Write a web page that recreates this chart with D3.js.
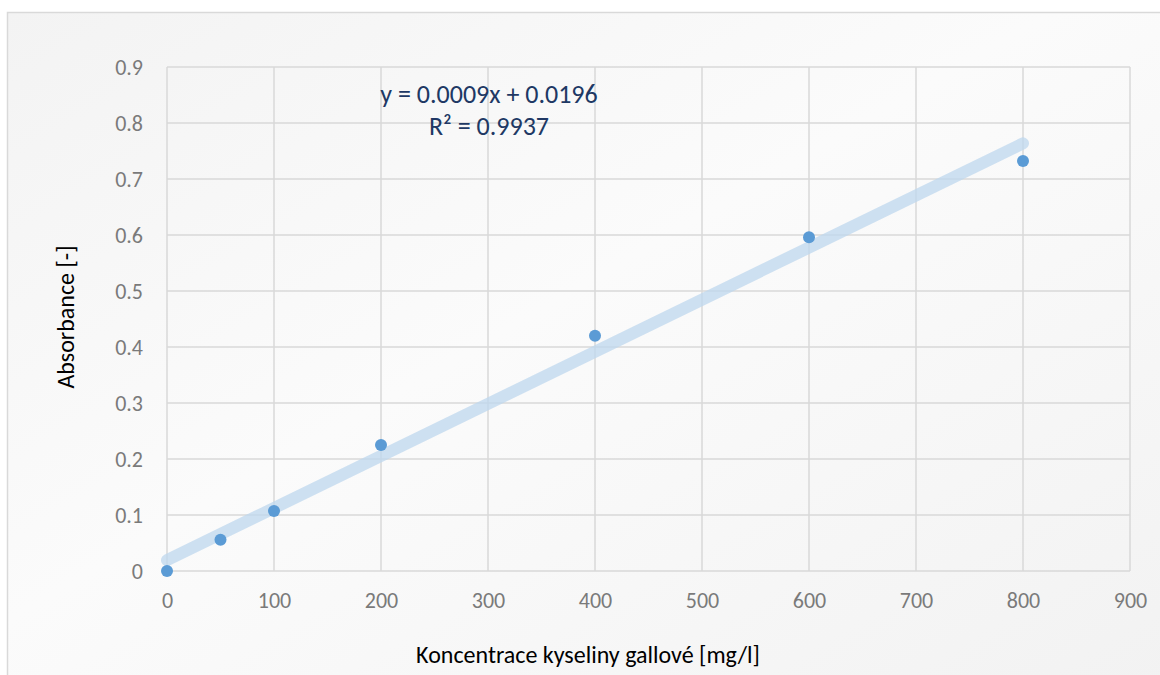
<!DOCTYPE html>
<html>
<head>
<meta charset="utf-8">
<script src="https://cdn.jsdelivr.net/npm/d3@7"></script>
<style>
  body { margin: 0; background: #ffffff; }
  svg { display: block; font-family: Carlito, Calibri, Lato, "Open Sans", sans-serif; }
</style>
</head>
<body>
<script>
// data
var concentrations = [0, 50, 100, 200, 400, 600, 800];
var absorbances = [0, 0.056, 0.107, 0.225, 0.42, 0.596, 0.732];
var xTicks = [0, 100, 200, 300, 400, 500, 600, 700, 800, 900];
var yTicks = [0, 0.1, 0.2, 0.3, 0.4, 0.5, 0.6, 0.7, 0.8, 0.9];
var equationLines = ["y = 0.0009x + 0.0196", "R\u00b2 = 0.9937"];

var svg_Width = 1160;
var svg_Height = 675;
var margin = { top: 67, right: 30, bottom: 104, left: 167 };
var chart_Width = svg_Width - margin.left - margin.right;
var chart_Height = svg_Height - margin.top - margin.bottom;

var svg = d3.select("body").append("svg")
  .attr("width", svg_Width)
  .attr("height", svg_Height);

// soft background gradient like the office chart area
var grad = svg.append("defs").append("linearGradient")
  .attr("id", "bg").attr("x1", "0%").attr("y1", "0%").attr("x2", "100%").attr("y2", "100%");
grad.append("stop").attr("offset", "0%").attr("stop-color", "#f3f3f3");
grad.append("stop").attr("offset", "45%").attr("stop-color", "#fbfbfb");
grad.append("stop").attr("offset", "100%").attr("stop-color", "#f2f2f2");

svg.append("rect")
  .attr("x", 7.5).attr("y", 12.5)
  .attr("width", svg_Width).attr("height", svg_Height)
  .attr("fill", "url(#bg)")
  .attr("stroke", "#d9d9d9").attr("stroke-width", 1.5);

var chartGroup = svg.append("g")
  .attr("transform", `translate(${margin.left}, ${margin.top})`);

var x = d3.scaleLinear().domain([0, 900]).range([0, chart_Width]);
var y = d3.scaleLinear().domain([0, 0.9]).range([chart_Height, 0]);

// gridlines
chartGroup.append("g")
  .selectAll("line.v")
  .data(xTicks)
  .enter().append("line")
  .attr("x1", d => x(d)).attr("x2", d => x(d))
  .attr("y1", 0).attr("y2", chart_Height)
  .attr("stroke", "#d9d9d9").attr("stroke-width", 1.5);

chartGroup.append("g")
  .selectAll("line.h")
  .data(yTicks)
  .enter().append("line")
  .attr("x1", 0).attr("x2", chart_Width)
  .attr("y1", d => y(d)).attr("y2", d => y(d))
  .attr("stroke", "#d9d9d9").attr("stroke-width", 1.5);

// axes (labels only)
var bottom_Axis = d3.axisBottom(x).tickValues(xTicks).tickSize(0).tickPadding(21);
var left_Axis = d3.axisLeft(y).tickValues(yTicks).tickSize(0).tickPadding(24)
  .tickFormat(d => d === 0 ? "0" : d3.format(".1f")(d));

var gx = chartGroup.append("g")
  .attr("transform", `translate(0, ${chart_Height})`)
  .call(bottom_Axis);
var gy = chartGroup.append("g").call(left_Axis);
[gx, gy].forEach(function(g) {
  g.select(".domain").remove();
  g.selectAll("text").attr("fill", "#7a7a7a").style("font-size", "22px")
    .style("font-family", "Carlito, Calibri, Lato, 'Open Sans', sans-serif");
});
gy.selectAll("text").attr("dy", "0.35em");

// linear trendline from least squares
var n = concentrations.length;
var mx = d3.mean(concentrations);
var my = d3.mean(absorbances);
var sxy = 0, sxx = 0;
for (var i = 0; i < n; i++) {
  sxy += (concentrations[i] - mx) * (absorbances[i] - my);
  sxx += (concentrations[i] - mx) * (concentrations[i] - mx);
}
var slope = sxy / sxx;
var intercept = my - slope * mx;
var xMin = d3.min(concentrations), xMax = d3.max(concentrations);

chartGroup.append("line")
  .attr("x1", x(xMin)).attr("y1", y(intercept + slope * xMin))
  .attr("x2", x(xMax)).attr("y2", y(intercept + slope * xMax))
  .attr("stroke", "#bdd7ee").attr("stroke-opacity", 0.75)
  .attr("stroke-width", 12).attr("stroke-linecap", "round");

// points
chartGroup.selectAll("circle")
  .data(concentrations)
  .enter().append("circle")
  .attr("cx", (d, i) => x(d))
  .attr("cy", (d, i) => y(absorbances[i]))
  .attr("r", 6)
  .attr("fill", "#5b9bd5");

// equation label
chartGroup.append("text")
  .attr("text-anchor", "middle")
  .attr("fill", "#203864")
  .style("font-size", "26px")
  .selectAll("tspan")
  .data(equationLines)
  .enter().append("tspan")
  .attr("x", 489 - margin.left)
  .attr("y", (d, i) => 103 - margin.top + i * 32)
  .text(d => d);

// axis titles
svg.append("text")
  .attr("x", 588).attr("y", 663)
  .attr("text-anchor", "middle")
  .attr("fill", "#000000")
  .style("font-size", "24px")
  .text("Koncentrace kyseliny gallové [mg/l]");

svg.append("text")
  .attr("transform", `translate(74, 317) rotate(-90)`)
  .attr("text-anchor", "middle")
  .attr("fill", "#000000")
  .style("font-size", "24px")
  .text("Absorbance [-]");
</script>
</body>
</html>
